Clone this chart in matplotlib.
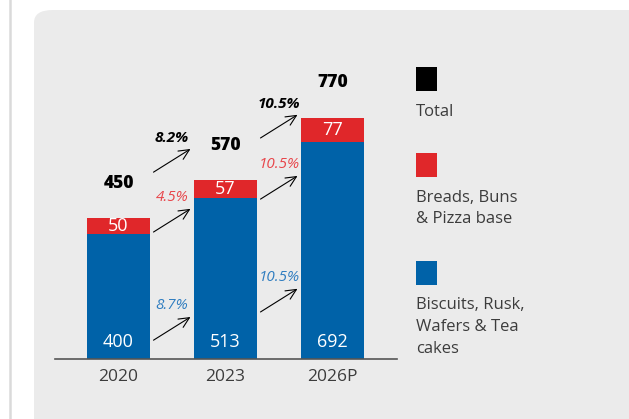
import matplotlib.pyplot as plt
from matplotlib.patches import FancyBboxPatch
from matplotlib.lines import Line2D

years = ['2020', '2023', '2026P']
biscuits = [400, 513, 692]
breads = [50, 57, 77]
totals = [450, 570, 770]
cagr_total = ['8.2%', '10.5%']
cagr_breads = ['4.5%', '10.5%']
cagr_biscuits = ['8.7%', '10.5%']
legend_labels = ['Total', 'Breads, Buns\n& Pizza base', 'Biscuits, Rusk,\nWafers & Tea\ncakes']

BLUE = '#0062a8'
RED = '#e0272a'
BLUE_TXT = '#2f7dc0'
RED_TXT = '#e8454a'
GREY_TXT = '#3c3c3c'
PANEL = '#ebebeb'

plt.rcParams['font.family'] = ['Open Sans', 'DejaVu Sans']

W, H = 629, 419
fig = plt.figure(figsize=(W / 100, H / 100), dpi=100)
fig.patch.set_facecolor('white')

# grey rounded panel + thin line on the left
panel = FancyBboxPatch((34 / W, -0.05), 1.2, (H - 10) / H + 0.05,
                       boxstyle='round,pad=0,rounding_size=0.03',
                       transform=fig.transFigure, facecolor=PANEL,
                       edgecolor='none', zorder=-5)
fig.patches.append(panel)
fig.add_artist(Line2D([10 / W, 10 / W], [0, 1], transform=fig.transFigure,
                      color='#dadada', lw=1.8))

# main axes: baseline at y=359px, x from 55 to 397 px
px_per_unit = 0.3135
ax_left, ax_right = 55, 397
ax_bottom_px, ax_top_px = 359, 30
ax = fig.add_axes([ax_left / W, (H - ax_bottom_px) / H,
                   (ax_right - ax_left) / W, (ax_bottom_px - ax_top_px) / H])
ax.set_facecolor('none')
spacing = 107
x = list(range(len(years)))
ax.set_xlim(-(118.5 - ax_left) / spacing, 2 + (ax_right - 332.5) / spacing)
ax.set_ylim(0, (ax_bottom_px - ax_top_px) / px_per_unit)

bw = 63 / spacing
ax.bar(x, biscuits, width=bw, color=BLUE, zorder=2)
ax.bar(x, breads, width=bw, bottom=biscuits, color=RED, zorder=2)

for i in x:
    ax.annotate(str(biscuits[i]), (i, 0), xytext=(0, 12.5), textcoords='offset points',
                ha='center', va='center', color='white', fontsize=13)
    ax.text(i, biscuits[i] + breads[i] / 2, str(breads[i]), ha='center', va='center',
            color='white', fontsize=13)
    ax.annotate(str(totals[i]), (i, totals[i]), xytext=(0, 25), textcoords='offset points',
                ha='center', va='center', color='black', fontsize=12.5, fontweight='heavy')

# growth arrows: start heights (data units) for each transition
arrow_start = {
    'biscuits': [60, 150],
    'breads': [405, 510],
    'total': [596, 705],
}
rise = 74
layers = [('biscuits', cagr_biscuits, BLUE_TXT, 'normal'),
          ('breads', cagr_breads, RED_TXT, 'normal'),
          ('total', cagr_total, 'black', 'bold')]
for key, labels, col, wt in layers:
    for i in range(len(years) - 1):
        y0 = arrow_start[key][i]
        ax.annotate('', xy=(i + 0.673, y0 + rise), xytext=(i + 0.327, y0),
                    arrowprops=dict(arrowstyle='->,head_length=0.75,head_width=0.35',
                                    color='black', lw=0.8, shrinkA=0, shrinkB=0))
        ax.annotate(labels[i], (i + 0.5, y0 + rise), xytext=(0, 8), textcoords='offset points',
                    ha='center', va='center', color=col, fontsize=11, fontstyle='italic',
                    fontweight=wt)

ax.set_xticks(x)
ax.set_xticklabels(years, fontsize=12.5, color=GREY_TXT)
ax.tick_params(axis='x', length=0, pad=7)
ax.set_yticks([])
for s in ['top', 'left', 'right']:
    ax.spines[s].set_visible(False)
ax.spines['bottom'].set_color('#555555')
ax.spines['bottom'].set_linewidth(1.2)

# legend on the right
leg_x = 416
leg_items = [('black', 67, [112]),
             (RED, 153, [198, 219]),
             (BLUE, 261, [305, 327, 349])]
for (col, sq_top, line_ys), label in zip(leg_items, legend_labels):
    fig.patches.append(plt.Rectangle((leg_x / W, (H - sq_top - 24) / H), 21 / W, 24 / H,
                                     transform=fig.transFigure, facecolor=col,
                                     edgecolor='none', zorder=3))
    for ly, line in zip(line_ys, label.split('\n')):
        fig.text(leg_x / W, (H - ly) / H, line, ha='left', va='center',
                 fontsize=12, color=GREY_TXT)

fig.savefig('out.png', dpi=100)
